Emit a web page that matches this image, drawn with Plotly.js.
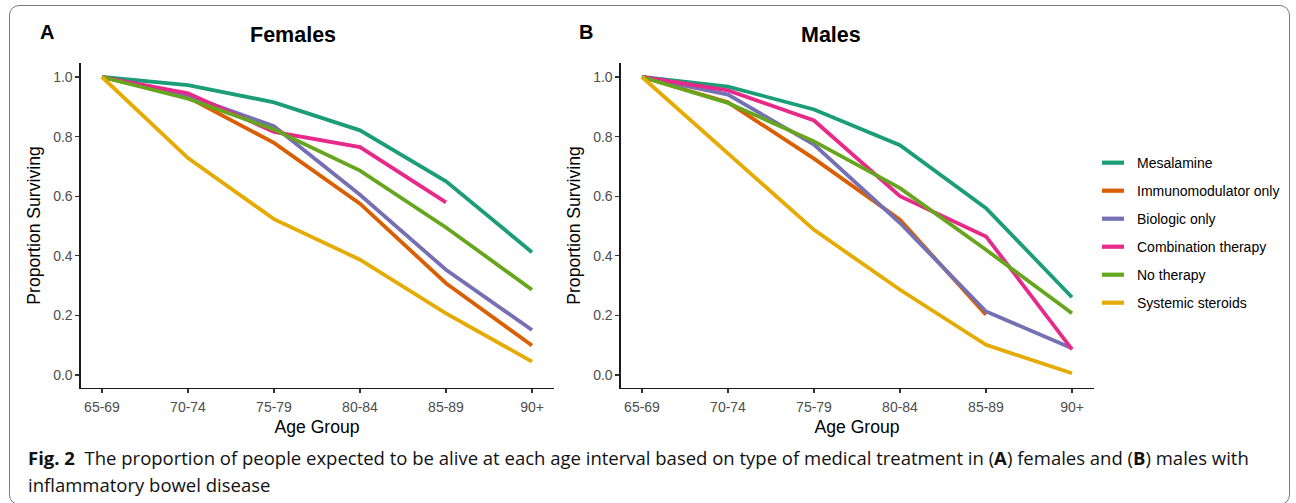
<!DOCTYPE html>
<html>
<head>
<meta charset="utf-8">
<script src="https://cdn.plot.ly/plotly-3.0.1.min.js"></script>
<style>
  html, body { margin: 0; padding: 0; background: #fff; }
  #wrap { position: relative; width: 1296px; height: 503px; overflow: hidden; }
  #chart { position: absolute; left: 0; top: 0; width: 1296px; height: 503px; }
  #frame { position: absolute; left: 9px; top: 5px; width: 1279px; height: 498px;
           border: 1px solid #7a7a7a; border-radius: 10px; pointer-events: none; }
</style>
</head>
<body>
<div id="wrap">
  <div id="chart"></div>
  <div id="frame"></div>
</div>
<script>
// ---- data ----
const ageGroups = ["65-69", "70-74", "75-79", "80-84", "85-89", "90+"];
const seriesNames = ["Mesalamine", "Immunomodulator only", "Biologic only",
                     "Combination therapy", "No therapy", "Systemic steroids"];
const seriesColors = ["#1B9E77", "#D95F02", "#7570B3", "#E7298A", "#66A61E", "#E6AB02"];

// Females (panel A)
const femMesalamine   = [1.0, 0.973, 0.915, 0.821, 0.650, 0.412];
const femImmuno       = [1.0, 0.932, 0.779, 0.575, 0.308, 0.099];
const femBiologic     = [1.0, 0.938, 0.835, 0.605, 0.353, 0.151];
const femCombination  = [1.0, 0.945, 0.816, 0.765, 0.579, null];
const femNoTherapy    = [1.0, 0.927, 0.824, 0.686, 0.495, 0.286];
const femSteroids     = [1.0, 0.728, 0.523, 0.387, 0.207, 0.045];

// Males (panel B)
const maleMesalamine  = [1.0, 0.968, 0.891, 0.771, 0.560, 0.261];
const maleImmuno      = [1.0, 0.915, 0.726, 0.521, 0.202, null];
const maleBiologic    = [1.0, 0.941, 0.773, 0.510, 0.213, 0.090];
const maleCombination = [1.0, 0.955, 0.854, 0.600, 0.465, 0.086];
const maleNoTherapy   = [1.0, 0.913, 0.784, 0.627, 0.420, 0.207];
const maleSteroids    = [1.0, 0.745, 0.487, 0.286, 0.101, 0.006];

const femaleSeries = [femMesalamine, femImmuno, femBiologic, femCombination, femNoTherapy, femSteroids];
const maleSeries   = [maleMesalamine, maleImmuno, maleBiologic, maleCombination, maleNoTherapy, maleSteroids];

const panelTitles = ["Females", "Males"];
const panelLetters = ["A", "B"];
const xTitle = "Age Group";
const yTitle = "Proportion Surviving";
const yTicks = [0.0, 0.2, 0.4, 0.6, 0.8, 1.0];
const yTickText = ["0.0", "0.2", "0.4", "0.6", "0.8", "1.0"];
const captionLine1 = "<b>Fig. 2</b>  The proportion of people expected to be alive at each age interval based on type of medical treatment in (<b>A</b>) females and (<b>B</b>) males with";
const captionLine2 = "inflammatory bowel disease";

// ---- build ----
const W = 1296, H = 503;
const px = v => v / W;
const py = v => 1 - v / H;
const FONT = "Liberation Sans, Arial, Helvetica, sans-serif";
const CAPFONT = "Open Sans, Noto Sans, sans-serif";

const traces = [];
femaleSeries.forEach((vals, i) => traces.push({
  x: ageGroups, y: vals, type: "scatter", mode: "lines", name: seriesNames[i],
  line: { color: seriesColors[i], width: 3.8 }, xaxis: "x", yaxis: "y",
  showlegend: false, connectgaps: false, hoverinfo: "skip"
}));
maleSeries.forEach((vals, i) => traces.push({
  x: ageGroups, y: vals, type: "scatter", mode: "lines", name: seriesNames[i],
  line: { color: seriesColors[i], width: 3.8 }, xaxis: "x2", yaxis: "y2",
  showlegend: false, connectgaps: false, hoverinfo: "skip"
}));

function xAxis(domain, anchor) {
  return {
    domain: domain, anchor: anchor, type: "category", range: [-0.25, 5.25],
    showline: true, linecolor: "#1a1a1a", linewidth: 1.1, showgrid: false, zeroline: false,
    ticks: "outside", ticklen: 4, tickwidth: 1.1, tickcolor: "#333",
    ticklabelstandoff: 2,
    tickfont: { family: FONT, size: 14, color: "#4d4d4d" },
    title: { text: xTitle, font: { family: FONT, size: 17.6, color: "#000" }, standoff: 6 },
    fixedrange: true
  };
}
function yAxis(domain, anchor) {
  return {
    domain: domain, anchor: anchor, range: [-0.0437, 1.047],
    tickvals: yTicks, ticktext: yTickText,
    showline: true, linecolor: "#1a1a1a", linewidth: 1.1, showgrid: false, zeroline: false,
    ticks: "outside", ticklen: 4, tickwidth: 1.1, tickcolor: "#333",
    tickfont: { family: FONT, size: 14, color: "#4d4d4d" },
    title: { text: yTitle, font: { family: FONT, size: 17.6, color: "#000" }, standoff: 8 },
    fixedrange: true
  };
}

const yDom = [py(388), py(63)];
const annotations = [];
const shapes = [];

// panel titles and letters
const titleX = [293, 831];
const letterX = [47, 586];
panelTitles.forEach((t, i) => {
  annotations.push({ xref: "paper", yref: "paper", x: px(titleX[i]), y: py(35),
    xanchor: "center", yanchor: "middle", showarrow: false,
    text: "<b>" + t + "</b>", font: { family: FONT, size: 21.5, color: "#000" } });
  annotations.push({ xref: "paper", yref: "paper", x: px(letterX[i]), y: py(32),
    xanchor: "center", yanchor: "middle", showarrow: false,
    text: "<b>" + panelLetters[i] + "</b>", font: { family: FONT, size: 20, color: "#000" } });
});

// manual legend
seriesNames.forEach((n, i) => {
  const yc = 162.7 + i * 28;
  shapes.push({ type: "line", xref: "paper", yref: "paper",
    x0: px(1102), x1: px(1124), y0: py(yc), y1: py(yc),
    line: { color: seriesColors[i], width: 4.2 } });
  annotations.push({ xref: "paper", yref: "paper", x: px(1135), y: py(yc),
    xanchor: "left", yanchor: "middle", showarrow: false,
    text: n, font: { family: FONT, size: 14, color: "#000" } });
});

// caption
annotations.push({ xref: "paper", yref: "paper", x: px(26), y: py(457),
  xanchor: "left", yanchor: "middle", showarrow: false, align: "left",
  text: captionLine1, font: { family: CAPFONT, size: 18.5, color: "#111" } });
annotations.push({ xref: "paper", yref: "paper", x: px(26), y: py(484),
  xanchor: "left", yanchor: "middle", showarrow: false, align: "left",
  text: captionLine2, font: { family: CAPFONT, size: 18.5, color: "#111" } });

const layout = {
  width: W, height: H,
  margin: { l: 0, r: 0, t: 0, b: 0, pad: 0 },
  paper_bgcolor: "#fff", plot_bgcolor: "rgba(0,0,0,0)",
  showlegend: false,
  xaxis: xAxis([px(80.5), px(553.5)], "y"),
  yaxis: yAxis(yDom, "x"),
  xaxis2: xAxis([px(620.5), px(1093.5)], "y2"),
  yaxis2: yAxis(yDom, "x2"),
  annotations: annotations,
  shapes: shapes
};

Plotly.newPlot("chart", traces, layout, { displayModeBar: false, staticPlot: true });
</script>
</body>
</html>
